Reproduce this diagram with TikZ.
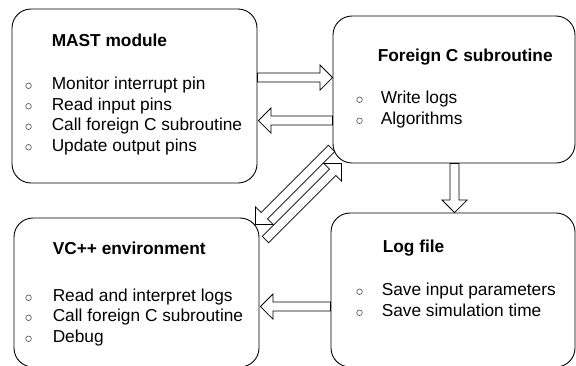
\documentclass[tikz,border=0pt]{standalone}
\usepackage{fontspec}
\setmainfont{Liberation Sans}
\usetikzlibrary{calc}

\tikzset{
  box/.style={draw=black, line width=0.9pt, rounded corners=19pt, inner sep=0pt},
  boxtitle/.style={anchor=base west, inner sep=0pt, font=\bfseries\fontsize{17.3}{20.5}\selectfont},
  itemtext/.style={anchor=base west, inner sep=0pt, font=\fontsize{17.3}{20.5}\selectfont},
  bulletmark/.style={circle, draw=black!70, line width=0.6pt, inner sep=0pt, minimum size=5.6pt},
  blockarrow/.style={draw=black, line width=0.8pt, fill=white, line join=miter},
}

% list entry: name, base-west position, text, bullet offset
\newcommand\listentry[4]{%
  \node[itemtext] (#1) at (#2) {#3};
  \node[bulletmark] (#1-b) at ($(#1.base west)+(#4,-3.8)$) {};}

% hollow block arrow: name, tail coordinate, tip coordinate
\newcommand\blockarrow[3]{%
  \coordinate (#1-hb) at ($(#3)!12.5pt!(#2)$);
  \draw[blockarrow] ($(#2)!4.5pt!90:(#3)$) -- ($(#1-hb)!4.5pt!90:(#3)$)
    -- ($(#1-hb)!12.5pt!90:(#3)$) -- (#3) -- ($(#1-hb)!12.5pt!-90:(#3)$)
    -- ($(#1-hb)!4.5pt!-90:(#3)$) -- ($(#2)!4.5pt!-90:(#3)$) -- cycle;}

\begin{document}
\begin{tikzpicture}[x=1pt, y=-1pt]
\useasboundingbox (0,0) rectangle (576,365);
\fill[white] (0,0) rectangle (576,365);

% boxes
\node[box, minimum width=245pt, minimum height=174pt] (mast) at (134.5,96) {};
\node[box, minimum width=242pt, minimum height=147pt] (foreign) at (454,89.5) {};
\node[box, minimum width=245pt, minimum height=149pt] (vcpp) at (136.5,292.5) {};
\node[box, minimum width=244pt, minimum height=154pt] (logf) at (453,290) {};

% MAST module
\node[boxtitle] (mast-t) at ($(mast.north west)+(40,38)$) {MAST module};
\listentry{m1}{$(mast.north west)+(40,81)$}{Monitor interrupt pin}{-23}
\listentry{m2}{$(mast.north west)+(40,101.5)$}{Read input pins}{-23}
\listentry{m3}{$(mast.north west)+(40,122)$}{Call foreign C subroutine}{-23}
\listentry{m4}{$(mast.north west)+(40,142.5)$}{Update output pins}{-23}

% Foreign C subroutine
\node[boxtitle] (foreign-t) at ($(foreign.north west)+(45,46)$) {Foreign C subroutine};
\listentry{f1}{$(foreign.north west)+(48,88)$}{Write logs}{-21}
\listentry{f2}{$(foreign.north west)+(48,109)$}{Algorithms}{-21}

% VC++ environment
\node[boxtitle] (vcpp-t) at ($(vcpp.north west)+(39,37)$) {VC++ environment};
\listentry{v1}{$(vcpp.north west)+(39,84)$}{Read and interpret logs}{-24}
\listentry{v2}{$(vcpp.north west)+(39,104)$}{Call foreign C subroutine}{-24}
\listentry{v3}{$(vcpp.north west)+(39,125)$}{Debug}{-24}

% Log file
\node[boxtitle] (logf-t) at ($(logf.north west)+(52,40)$) {Log file};
\listentry{l1}{$(logf.north west)+(51,83)$}{Save input parameters}{-22}
\listentry{l2}{$(logf.north west)+(51,104)$}{Save simulation time}{-22}

% arrow end points
\coordinate (a1t) at ($(mast.north east)+(0,69)$);
\coordinate (a1h) at (foreign.west |- a1t);
\coordinate (a2h) at ($(mast.north east)+(1,112)$);
\coordinate (a2t) at (foreign.west |- a2h);
\coordinate (a3t) at ($(foreign.south west)+(122,0)$);
\coordinate (a3h) at (a3t |- logf.north);
\coordinate (a4t) at ($(logf.north west)+(0,94)$);
\coordinate (a4h) at ($(vcpp.east |- a4t)+(1,0)$);
\coordinate (a5t) at ($(foreign.south west)+(-1,-15)$);
\coordinate (a5h) at ($(vcpp.north east)+(-4,7)$);
\coordinate (a6t) at ($(vcpp.north east)+(6,22)$);
\coordinate (a6h) at ($(foreign.south west)+(9,0)$);

% arrows
\blockarrow{a1}{a1t}{a1h}
\blockarrow{a2}{a2t}{a2h}
\blockarrow{a3}{a3t}{a3h}
\blockarrow{a4}{a4t}{a4h}
\blockarrow{a5}{a5t}{a5h}
\blockarrow{a6}{a6t}{a6h}
\end{tikzpicture}
\end{document}
